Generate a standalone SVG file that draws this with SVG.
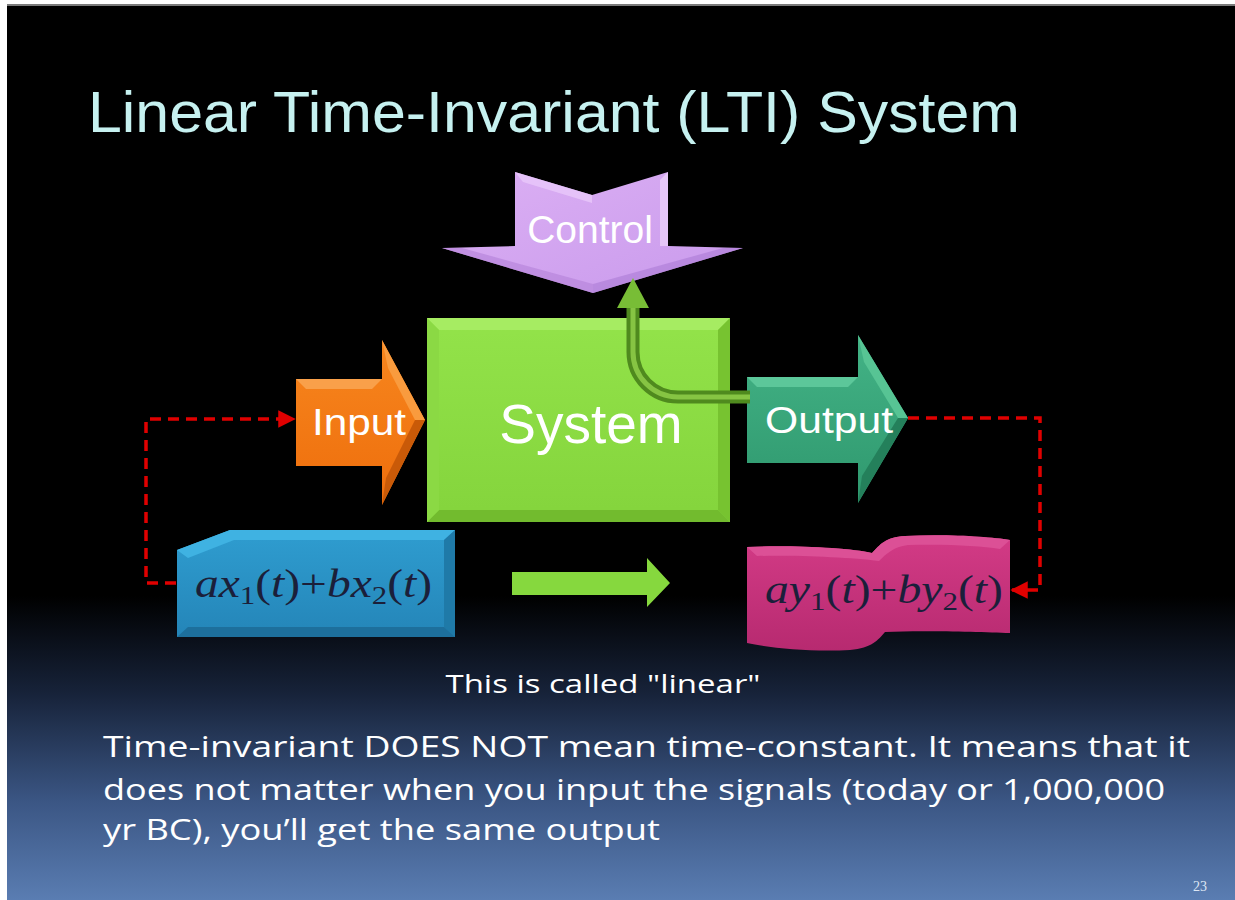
<svg xmlns="http://www.w3.org/2000/svg" width="1235" height="900" viewBox="0 0 1235 900">
<defs>
<linearGradient id="bg" x1="0" y1="0" x2="0" y2="1">
<stop offset="0" stop-color="#000000"/>
<stop offset="0.66" stop-color="#000000"/>
<stop offset="0.77" stop-color="#17233a"/>
<stop offset="0.89" stop-color="#3b5684"/>
<stop offset="1" stop-color="#5a7db2"/>
</linearGradient>
<linearGradient id="sysG" x1="0" y1="0" x2="0" y2="1">
<stop offset="0" stop-color="#93e34a"/>
<stop offset="1" stop-color="#84d43c"/>
</linearGradient>
<linearGradient id="ctlG" x1="0" y1="0" x2="1" y2="1">
<stop offset="0" stop-color="#dcb0f4"/>
<stop offset="1" stop-color="#c99aec"/>
</linearGradient>
<linearGradient id="inG" x1="0" y1="0" x2="0" y2="1">
<stop offset="0" stop-color="#f7861e"/>
<stop offset="1" stop-color="#ee6e0c"/>
</linearGradient>
<linearGradient id="outG" x1="0" y1="0" x2="0" y2="1">
<stop offset="0" stop-color="#43b386"/>
<stop offset="1" stop-color="#2f986e"/>
</linearGradient>
<linearGradient id="bluG" x1="0" y1="0" x2="0" y2="1">
<stop offset="0" stop-color="#2f9dd0"/>
<stop offset="1" stop-color="#2485b8"/>
</linearGradient>
<linearGradient id="magG" x1="0" y1="0" x2="0" y2="1">
<stop offset="0" stop-color="#d33b86"/>
<stop offset="1" stop-color="#b72a70"/>
</linearGradient>
<marker id="redHead" viewBox="0 0 10 10" refX="9" refY="5" markerWidth="5" markerHeight="5" markerUnits="strokeWidth" orient="auto">
<path d="M0,0 L10,5 L0,10 Z" fill="#e00000"/>
</marker>
<style>
.lbl{font-family:"Liberation Sans",Arial,sans-serif;fill:#ffffff}
.math{font-family:"Liberation Serif","Times New Roman",serif;fill:#1b1f3a;font-size:40px}
.it{font-style:italic}
.note{font-family:"Open Sans","DejaVu Sans",sans-serif;fill:#ffffff}
.dash{fill:none;stroke:#e00000;stroke-width:3.5;stroke-dasharray:11 7}
</style>
</defs>
<rect x="0" y="0" width="1235" height="900" fill="#ffffff"/>
<rect x="7" y="4" width="1228" height="3" fill="#7a7a7a"/>
<rect x="7" y="6" width="1228" height="894" fill="url(#bg)"/>

<text id="title" x="88" y="132" font-family="Liberation Sans Narrow,Liberation Sans,Arial,sans-serif" font-size="58" fill="#c6f1f0" textLength="932" lengthAdjust="spacingAndGlyphs">Linear Time-Invariant (LTI) System</text>

<g id="control">
<polygon points="515,172 592,195 668,172 668,246 743,248 593,293 442,248 515,246" fill="url(#ctlG)"/>
<polygon points="515,172 592,195 592,203 523,182" fill="#e8c8fa" opacity="0.8"/>
<polygon points="668,172 668,246 660,246 660,180" fill="#eed6fb" opacity="0.7"/>
<polygon points="442,248 593,293 593,284 462,248" fill="#b886dc" opacity="0.7"/>
<polygon points="743,248 593,293 593,284 723,248" fill="#b080d8" opacity="0.7"/>
<text class="lbl" x="590" y="243" font-size="39" text-anchor="middle" fill="#f4ecfb">Control</text>
</g>

<g id="system">
<rect x="427" y="318" width="303" height="204" fill="url(#sysG)"/>
<polygon points="427,318 730,318 718,330 439,330" fill="#a6ec62"/>
<polygon points="730,318 730,522 718,510 718,330" fill="#77c330"/>
<polygon points="427,522 730,522 718,510 439,510" fill="#72bb2e"/>
<polygon points="427,318 439,330 439,510 427,522" fill="#8bd944"/>
<text class="lbl" x="591" y="443" font-size="55" text-anchor="middle">System</text>
</g>

<g id="input">
<polygon points="296,379 382,379 382,340 425,420 382,505 382,466 296,466" fill="url(#inG)"/>
<polygon points="296,379 382,379 372,389 306,389" fill="#f9a04a"/>
<polygon points="382,340 425,420 415,420 388,368" fill="#f99b3e"/>
<polygon points="425,420 382,505 386,478 415,420" fill="#c95a08"/>
<text class="lbl" x="312" y="435" font-size="37" textLength="94" lengthAdjust="spacingAndGlyphs">Input</text>
</g>

<g id="output">
<polygon points="747,377 858,377 858,335 908,418 858,503 858,463 747,463" fill="url(#outG)"/>
<polygon points="747,377 858,377 848,387 757,387" fill="#5cc79a"/>
<polygon points="858,335 908,418 898,418 864,362" fill="#57c494"/>
<polygon points="908,418 858,503 862,476 898,418" fill="#24805b"/>
<text class="lbl" x="765" y="433" font-size="37" textLength="128" lengthAdjust="spacingAndGlyphs">Output</text>
</g>

<g id="lhs">
<polygon points="177,550 230,530 455,530 455,637 177,637" fill="url(#bluG)"/>
<polygon points="177,550 230,530 455,530 444,540 234,540 188,558" fill="#3fb2e2"/>
<polygon points="455,530 455,637 444,627 444,540" fill="#1f7aa8"/>
<polygon points="177,637 455,637 444,627 188,627" fill="#1d6f9c"/>
<text class="math" x="195" y="597" textLength="237" lengthAdjust="spacingAndGlyphs"><tspan class="it">ax</tspan><tspan font-size="26" dy="7">1</tspan><tspan dy="-7">(</tspan><tspan class="it">t</tspan><tspan>)+</tspan><tspan class="it">bx</tspan><tspan font-size="26" dy="7">2</tspan><tspan dy="-7">(</tspan><tspan class="it">t</tspan><tspan>)</tspan></text>
</g>

<g id="implies">
<polygon points="512,572 647,572 647,558 670,583 647,607 647,595 512,595" fill="#86d83e"/>
</g>

<g id="rhs">
<path d="M747,547 C790,545 850,548 872,553 C880,545 885,537 905,536 C950,534 990,537 1010,540 L1010,633 C980,632 920,630 885,632 C878,640 872,648 850,650 C810,652 770,648 747,643 Z" fill="url(#magG)"/>
<path d="M747,547 C790,545 850,548 872,553 C880,545 885,537 905,536 C950,534 990,537 1010,540 L1000,549 C980,546 950,544 908,545 C893,547 886,554 879,561 C850,557 790,555 757,556 Z" fill="#dc5096"/>
<text class="math" x="765" y="603" textLength="238" lengthAdjust="spacingAndGlyphs"><tspan class="it">ay</tspan><tspan font-size="26" dy="7">1</tspan><tspan dy="-7">(</tspan><tspan class="it">t</tspan><tspan>)+</tspan><tspan class="it">by</tspan><tspan font-size="26" dy="7">2</tspan><tspan dy="-7">(</tspan><tspan class="it">t</tspan><tspan>)</tspan></text>
</g>

<g id="connectors">
<polyline class="dash" points="176,583 146,583 146,419 294,419" marker-end="url(#redHead)"/>
<polyline class="dash" points="908,418 1040,418 1040,590 1012,590" marker-end="url(#redHead)"/>
<path d="M750,397 H678 A45,45 0 0 1 633,352 V305" fill="none" stroke="#4f8a1e" stroke-width="13"/>
<path d="M750,397 H678 A45,45 0 0 1 633,352 V305" fill="none" stroke="#86c443" stroke-width="5"/>
<polygon points="617,308 649,308 633,278" fill="#78bd36"/>
</g>

<text id="caption" class="note" x="603" y="693" font-size="26" text-anchor="middle" textLength="315" lengthAdjust="spacingAndGlyphs">This is called "linear"</text>
<g id="para" class="note" font-size="30">
<text x="103" y="757" textLength="1087" lengthAdjust="spacingAndGlyphs">Time-invariant DOES NOT mean time-constant. It means that it</text>
<text x="103" y="800" textLength="1062" lengthAdjust="spacingAndGlyphs">does not matter when you input the signals (today or 1,000,000</text>
<text x="103" y="840" textLength="557" lengthAdjust="spacingAndGlyphs">yr BC), you’ll get the same output</text>
</g>
<text id="pagenum" x="1193" y="891" font-family="Liberation Serif,serif" font-size="14" fill="#dde6f4">23</text>
</svg>
